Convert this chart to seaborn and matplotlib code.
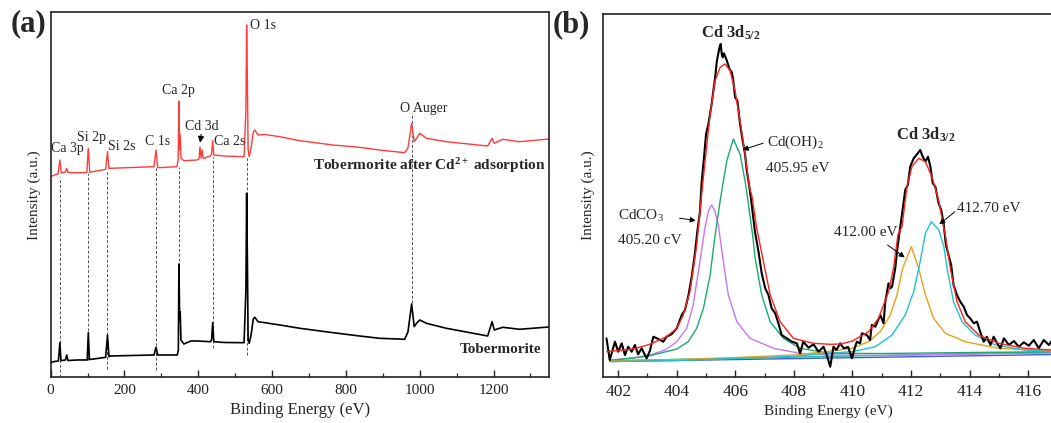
import matplotlib
matplotlib.use("Agg")
import matplotlib.pyplot as plt
from matplotlib.ticker import MultipleLocator
import seaborn as sns

# ---------------- data: panel (a) survey spectra ----------------
after_ev = [0, 10, 20, 25, 29, 40, 43.5, 47, 72, 98, 102, 106, 117, 149, 154, 158, 162, 220,
            280, 285.5, 290, 342, 345.5, 347.5, 349.5, 351, 353, 361, 397, 402, 404.5, 407.5,
            410.5, 413.5, 433, 436, 439, 442, 470, 524, 529, 531, 533, 535, 538, 543, 549, 553,
            562, 580, 621, 675, 765, 837, 891, 959, 968, 978, 985, 992, 1000, 1018, 1072, 1184,
            1196, 1202, 1225, 1270, 1350]
after_int = [200.8, 202.5, 203.5, 217.5, 204.5, 205.5, 209.2, 205, 204.8, 205, 229.2, 205.2, 206,
             208.2, 225.8, 209, 209.2, 210, 210.8, 227.5, 209.8, 210.8, 217.5, 276.5, 227.5, 242.5,
             219.5, 216.8, 217.5, 218.5, 230.5, 219.5, 227.5, 219, 221.5, 223.5, 236.8, 222.5, 221.5,
             220.8, 267.5, 352.5, 297.5, 227.5, 220.8, 229.5, 245.5, 247.5, 242.5, 243, 240.8, 236.8,
             232.5, 230.2, 227.5, 224.8, 229.5, 254.2, 235.8, 239.5, 244.2, 239.2, 235.8, 231.5,
             239.2, 234.2, 238.2, 235.8, 238.5]

tob_ev = [0, 10, 21, 25, 28, 40, 43.5, 47, 72, 99, 102, 105, 117, 149, 154, 158, 162, 220, 280,
          285.5, 290, 343, 346, 347.5, 349.5, 351, 353, 361, 380, 397, 433, 436, 439, 442, 470,
          524, 529, 531, 533, 535, 538, 543, 549, 553, 562, 621, 675, 765, 837, 891, 959, 968,
          978, 985, 992, 1000, 1018, 1072, 1184, 1196, 1202, 1225, 1270, 1350]
tob_int = [14.8, 16, 16.5, 34.8, 16.8, 17.5, 22.5, 17, 17.5, 17.5, 44.8, 18, 18.5, 20.2, 42.5,
           20.8, 21.5, 22, 22.5, 30.2, 22.5, 22.5, 27.5, 113.5, 57.5, 65.8, 37.5, 33.5, 36.5, 36.5,
           35.8, 37.5, 54.8, 35.8, 35, 34.8, 87.5, 184.2, 117.5, 37.5, 34.2, 42.5, 58.5, 60.2, 55.8,
           52.5, 49.2, 44.8, 41.5, 39.2, 38.2, 45.5, 73.5, 50.8, 54.5, 57.5, 54.2, 49.2, 41.5, 55.8,
           47.5, 50.2, 48.2, 50.5]

ref_ev = [25, 102, 154, 285.5, 347.5, 439, 531, 978]
ref_lo = [0, 17.5, 8.5, 7.5, 111, 29.5, 22.5, 74.2]
ref_hi = [200.8, 204.5, 207.5, 209.5, 211, 220.8, 220.8, 264.2]

peak_labels = ["Ca 3p", "Si 2p", "Si 2s", "C 1s", "Ca 2p", "Cd 3d", "Ca 2s", "O Auger"]
peak_lab_x = [45, 111.8, 192.7, 289.6, 347.5, 409, 485.3, 1010]
peak_lab_y = [229.2, 240.5, 230.8, 235.8, 286.8, 250.8, 235.8, 269.2]

# ---------------- data: panel (b) Cd 3d high resolution ----------------
raw_ev = [401.60, 401.71, 401.89, 402.0, 402.12, 402.23, 402.34, 402.46, 402.57, 402.68, 402.80,
          402.97, 403.08, 403.20, 403.37, 403.54, 403.65, 403.82, 404.0, 404.17, 404.28, 404.40,
          404.51, 404.62, 404.70, 404.79, 404.85, 404.93, 405.0, 405.08, 405.19, 405.31, 405.37,
          405.46, 405.5, 405.54, 405.57, 405.61, 405.71, 405.8, 405.88, 405.93, 405.99, 406.07,
          406.16, 406.25, 406.33, 406.39, 406.48, 406.56, 406.67, 406.79, 406.9, 407.02, 407.13,
          407.24, 407.36, 407.47, 407.58, 407.76, 407.93, 408.1, 408.21, 408.32, 408.5, 408.67,
          408.84, 409.01, 409.12, 409.24, 409.35, 409.45, 409.58, 409.7, 409.85, 409.98, 410.09,
          410.15, 410.26, 410.32, 410.49, 410.6, 410.66, 410.78, 410.95, 411.06, 411.12, 411.23,
          411.29, 411.35, 411.46, 411.52, 411.6, 411.71, 411.8, 411.89, 411.97, 412.09, 412.23,
          412.31, 412.39, 412.49, 412.58, 412.66, 412.74, 412.83, 412.94, 413.03, 413.11, 413.19,
          413.28, 413.37, 413.45, 413.57, 413.68, 413.8, 413.91, 414.02, 414.14, 414.25, 414.36,
          414.48, 414.59, 414.71, 414.82, 414.94, 415.05, 415.17, 415.34, 415.51, 415.68, 415.85,
          416.02, 416.19, 416.36, 416.53, 416.71, 416.8]
raw_int = [38.7, 17, 35.3, 25.3, 33.7, 22, 30.3, 25.3, 32, 22.7, 28.7, 18.7, 26, 40.3, 38, 35.3,
           40.3, 42.7, 48.7, 62, 67, 82, 100.3, 123.7, 145.3, 165, 195, 219.7, 243, 253, 273, 299.7,
           316.3, 329.7, 333, 322, 319.7, 323.7, 316.3, 308, 304.7, 296.3, 279.7, 276.3, 253, 236.3,
           223, 206.3, 189.7, 172, 145.3, 125.3, 103.7, 88.7, 82, 68.7, 63.7, 53.7, 42, 38.7, 35.3,
           33.7, 23.7, 35.3, 29.3, 32.7, 25.3, 30.3, 22, 10.3, 30.3, 27, 33.7, 28.7, 30, 18.7, 30.3,
           35.3, 33.7, 43.7, 42, 37, 52, 50.3, 62, 53.7, 75.3, 93.7, 88.7, 90.3, 108.7, 125.3, 143.7,
           167, 187, 192, 210.3, 218.7, 223.7, 227, 221, 215.3, 220.3, 210.3, 193.7, 190.3, 173.7,
           167, 153.7, 132, 122, 112, 92, 82, 75.3, 70.3, 62, 58.7, 53.7, 55.3, 45.3, 35.3, 40.3, 32,
           40.3, 33.7, 28.7, 38.7, 32, 36, 30.3, 34.7, 31.3, 37, 28.7, 37, 32, 36]

fit_ev = [401.6, 402.5, 403.08, 403.65, 404.0, 404.22, 404.45, 404.68, 404.79, 404.91, 405.0,
          405.14, 405.31, 405.48, 405.65, 405.82, 405.99, 406.16, 406.33, 406.48, 406.56, 406.73,
          406.96, 407.19, 407.53, 407.98, 408.67, 409.24, 409.6, 410.0, 410.55, 410.89, 411.23,
          411.4, 411.55, 411.69, 411.86, 412.03, 412.26, 412.49, 412.71, 412.94, 413.11, 413.17,
          413.34, 413.57, 413.85, 414.31, 414.99, 415.9, 416.82]
fit_int = [25.3, 28, 32.7, 40.3, 48.7, 62, 85.3, 132, 165, 200, 225, 263, 296.3, 309.7, 313,
           306.3, 286.3, 256.3, 223, 189.7, 182, 148.7, 115.3, 82, 55.3, 38.7, 33.7, 32.7, 33, 36,
           45.3, 58.7, 85.3, 108.7, 142, 150.3, 190.3, 210.3, 218.7, 215.3, 200.3, 177, 150.3, 142,
           108.7, 75.3, 55.3, 42, 33.7, 28.7, 27]

co3_ev = [401.72, 402.5, 403.08, 403.6, 404.0, 404.34, 404.56, 404.79, 404.96, 405.08, 405.19,
          405.3, 405.42, 405.59, 405.76, 406.05, 406.5, 407.3, 408.21, 409.24, 411, 413, 416.82]
co3_int = [17, 19, 22, 27, 35.3, 48.7, 72, 115.3, 148.7, 166, 172, 166, 152, 115.3, 82, 55.3,
           38.7, 28.7, 23.7, 22, 21.5, 22.5, 24]

oh_ev = [401.72, 402.5, 403.08, 404.0, 404.39, 404.68, 404.91, 405.14, 405.31, 405.5, 405.71,
         405.93, 406.16, 406.33, 406.45, 406.59, 406.67, 406.9, 407.19, 407.64, 408.21, 409.24,
         411, 414, 416.82]
oh_int = [16.5, 19, 21.3, 28, 35.3, 48.7, 68.7, 102, 142, 180, 216.3, 238, 223, 196.3, 172, 142,
          120, 82, 55.3, 38.7, 28.7, 23.7, 23.5, 24.5, 25.3]

p412_ev = [401.72, 404, 406, 408, 409.07, 409.98, 410.55, 410.95, 411.29, 411.52, 411.71, 412.01,
           412.26, 412.49, 412.77, 413.17, 413.85, 414.99, 416.82]
p412_int = [16, 17.5, 19.5, 22, 25.3, 28.7, 35.3, 45.3, 62, 82, 108.7, 130.3, 108.7, 82, 58.7,
            43.7, 35.3, 28.7, 26]

p4127_ev = [401.72, 404, 406, 408, 409.07, 409.98, 410.78, 411.35, 411.8, 412.09, 412.31, 412.49,
            412.69, 412.95, 413.12, 413.23, 413.45, 413.74, 414.19, 414.88, 415.9, 416.82]
p4127_int = [15.5, 16.5, 18.5, 20.5, 23.7, 25.3, 30.3, 42, 62, 85.3, 115.3, 143.7, 155.3, 147,
             130, 108.7, 75.3, 55.3, 42, 32, 27, 25.3]

bg_ev = [401.72, 416.82]
bg_blue = [15.5, 22.5]
bg_teal = [16.3, 25.0]

# ---------------- style ----------------
sns.set_theme(style="ticks")
plt.rcParams['font.family'] = ['Liberation Serif', 'DejaVu Serif']
plt.rcParams['mathtext.fontset'] = 'custom'
plt.rcParams['mathtext.rm'] = 'Liberation Serif'
plt.rcParams['mathtext.it'] = 'Liberation Serif:italic'
plt.rcParams['mathtext.bf'] = 'Liberation Serif:bold'
plt.rcParams['mathtext.default'] = 'regular'

fig = plt.figure(figsize=(10.51, 4.23), dpi=100)
axA = fig.add_axes([0.0482, 0.1076, 0.4741, 0.864])
axB = fig.add_axes([0.574, 0.1087, 0.428, 0.8582])

def line(ax, x, y, color, lw):
    sns.lineplot(x=x, y=y, ax=ax, color=color, linewidth=lw, estimator=None, sort=False)

# ---------------- panel (a) ----------------
axA.vlines(ref_ev, ref_lo, ref_hi, colors="#555555", linestyles=(0, (3, 2)), linewidth=0.7)
line(axA, after_ev, after_int, "#ff3b3b", 1.0)
line(axA, tob_ev, tob_int, "black", 1.2)

axA.set_xlim(0, 1350)
axA.set_ylim(0, 365.5)
axA.set_yticks([])
axA.xaxis.set_major_locator(MultipleLocator(200))
axA.xaxis.set_minor_locator(MultipleLocator(100))

for t, x, y in zip(peak_labels, peak_lab_x, peak_lab_y):
    axA.text(x, y, t, ha="center", va="center", fontsize=10)
axA.text(539.4, 352.5, "O 1s", ha="left", va="center", fontsize=10)
axA.annotate("", xy=(404, 232), xytext=(409, 246),
             arrowprops=dict(arrowstyle="-|>", color="black", lw=0.8, mutation_scale=9))
axA.text(1341.5, 211.5, r"Tobermorite after Cd$^{\mathbf{2+}}$ adsorption", ha="right",
         va="center", fontsize=11, fontweight="bold")
axA.text(1329.6, 28.2, "Tobermorite", ha="right", va="center", fontsize=11, fontweight="bold")
axA.set_xlabel("Binding Energy (eV)", fontsize=12, labelpad=3)
axA.set_ylabel("Intensity (a.u.)", fontsize=11, labelpad=7)

# ---------------- panel (b) ----------------
line(axB, bg_ev, bg_blue, "#3f5fd0", 1.0)
line(axB, bg_ev, bg_teal, "#2bb39a", 1.0)
line(axB, co3_ev, co3_int, "#c777f0", 1.0)
line(axB, oh_ev, oh_int, "#1aaa6e", 1.0)
line(axB, p412_ev, p412_int, "#e6a118", 1.0)
line(axB, p4127_ev, p4127_int, "#1cc3cf", 1.0)
line(axB, raw_ev, raw_int, "black", 1.5)
line(axB, fit_ev, fit_int, "#ff2020", 1.0)

axB.set_xlim(401.49, 416.85)
axB.set_ylim(0, 363)
axB.set_yticks([])
axB.xaxis.set_major_locator(MultipleLocator(2))
axB.xaxis.set_minor_locator(MultipleLocator(1))
axB.spines["right"].set_visible(False)

axB.text(405.85, 344.7, r"Cd 3d$_{\mathbf{5/2}}$", ha="center", va="center", fontsize=12,
         fontweight="bold")
axB.text(412.51, 242, r"Cd 3d$_{\mathbf{3/2}}$", ha="center", va="center", fontsize=12,
         fontweight="bold")
axB.text(407.07, 234.7, r"Cd(OH)$_2$", ha="left", va="center", fontsize=11)
axB.text(407.05, 209, "405.95 eV", ha="left", va="center", fontsize=11)
axB.text(402.0, 161.3, r"CdCO$_3$", ha="left", va="center", fontsize=11)
axB.text(402.0, 137, "405.20 cV", ha="left", va="center", fontsize=11)
axB.text(413.57, 168.7, "412.70 eV", ha="left", va="center", fontsize=11)
axB.text(411.52, 144.3, "412.00 eV", ha="right", va="center", fontsize=11)

arrow = dict(arrowstyle="-|>", color="black", lw=0.7, mutation_scale=8)
axB.annotate("", xy=(406.16, 226.3), xytext=(407.04, 234.7), arrowprops=arrow)
axB.annotate("", xy=(404.74, 156), xytext=(404.0, 159.3), arrowprops=arrow)
axB.annotate("", xy=(412.89, 151), xytext=(413.57, 167), arrowprops=arrow)
axB.annotate("", xy=(411.86, 118), xytext=(411.12, 133.7), arrowprops=arrow)

axB.set_xlabel("Binding Energy (eV)", fontsize=11, labelpad=3)
axB.set_ylabel("Intensity (a.u.)", fontsize=11, labelpad=6)

for ax, fs in ((axA, 11), (axB, 12.5)):
    for s in ax.spines.values():
        s.set_linewidth(1.2)
        s.set_color("#222222")
    ax.tick_params(axis="x", which="major", direction="in", length=5, width=1.0,
                   labelsize=fs, pad=5, colors="#222222", top=False)
    ax.tick_params(axis="x", which="minor", direction="in", length=3, width=0.9, top=False)
    ax.tick_params(axis="y", left=False, right=False)

fig.text(10.7 / 1051, 1 - 23.3 / 423, "(a)", fontsize=22, fontweight="bold", ha="left",
         va="center")
fig.text(553 / 1051, 1 - 25 / 423, "(b)", fontsize=22, fontweight="bold", ha="left",
         va="center")

fig.savefig("out.png", dpi=100, facecolor="white")
